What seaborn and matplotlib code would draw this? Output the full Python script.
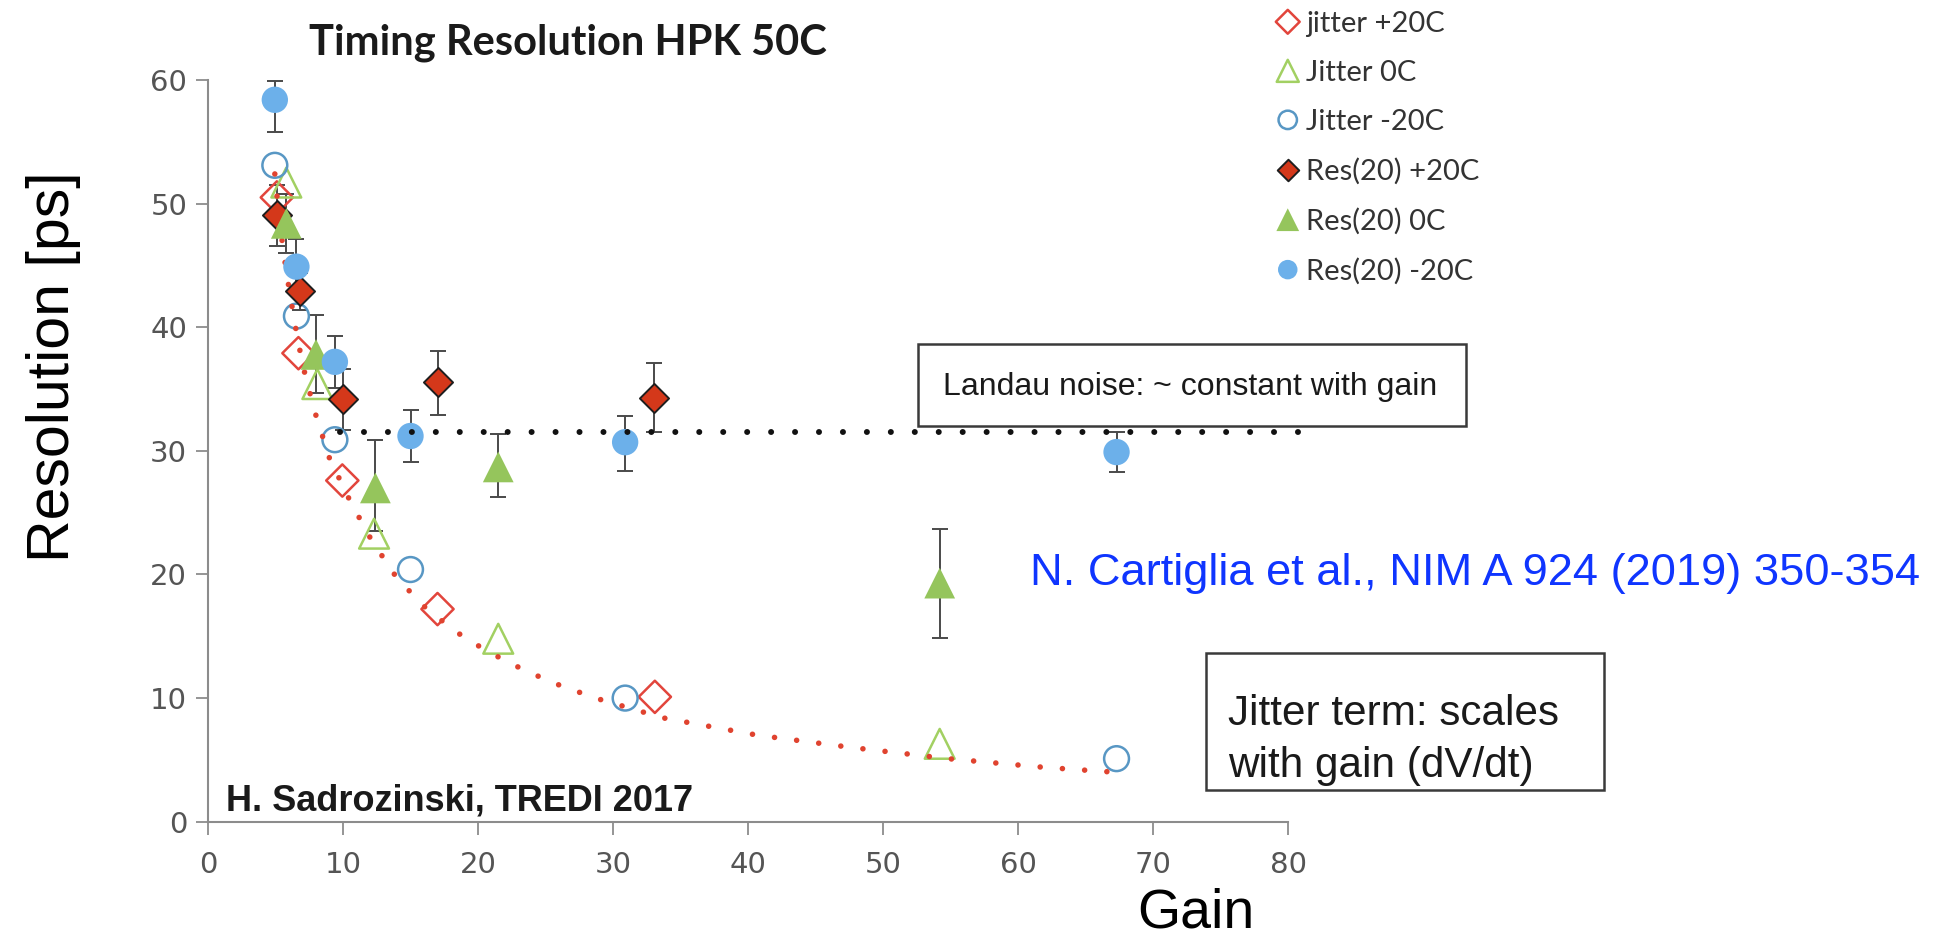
import matplotlib
matplotlib.use("Agg")
import matplotlib.pyplot as plt
import seaborn as sns
from matplotlib.patches import Rectangle

# =========================
# Setup
# =========================
sns.set_theme(style="white")
plt.rcParams["font.family"] = ["DejaVu Sans"]

W, H = 1935, 943


def fx(x):
    return x / W


def fy(y):
    return 1 - y / H


# =========================
# DATA
# =========================
# jitter (open markers)
J20_GAIN = [5.1, 6.7, 9.95, 17.0, 33.1]
J20_RES = [50.5, 37.9, 27.6, 17.2, 10.1]

J0_GAIN = [5.8, 8.1, 12.3, 21.5, 54.2]
J0_RES = [51.7, 35.4, 23.3, 14.8, 6.3]

JM20_GAIN = [4.95, 6.55, 9.4, 15.0, 30.9, 67.3]
JM20_RES = [53.1, 40.9, 30.9, 20.4, 10.0, 5.1]

# Res(20) (filled markers with error bars)
R20_GAIN = [5.1, 6.85, 10.0, 17.0, 33.0]
R20_RES = [49.1, 42.9, 34.2, 35.6, 34.3]
R20_LO = [46.6, 41.4, 31.7, 32.9, 31.5]
R20_HI = [51.5, 44.4, 36.6, 38.1, 37.1]

R0_GAIN = [5.8, 8.0, 12.4, 21.5, 54.2]
R0_RES = [48.4, 37.8, 27.0, 28.7, 19.3]
R0_LO = [46.0, 34.7, 23.5, 26.3, 14.9]
R0_HI = [50.8, 41.0, 30.9, 31.4, 23.7]

RM20_GAIN = [4.95, 6.55, 9.4, 15.0, 30.9, 67.3]
RM20_RES = [58.4, 44.9, 37.2, 31.2, 30.7, 29.9]
RM20_LO = [55.8, 42.7, 35.1, 29.1, 28.4, 28.3]
RM20_HI = [59.9, 47.1, 39.3, 33.3, 32.8, 31.5]

# dotted guide lines
TREND_GAIN = [4.95, 5.3, 5.8, 6.4, 7.0, 7.9, 9.0, 10.5, 12.1, 14.0, 16.3,
              19.1, 22.2, 25.4, 28.7, 33.7, 40.7, 47.7, 54.8, 61.9, 67.2]
TREND_RES = [52.4, 48.5, 44.5, 40.5, 37.0, 33.2, 29.4, 26.0, 22.8, 19.7, 17.1,
             14.8, 12.9, 11.3, 10.0, 8.4, 7.0, 6.0, 5.1, 4.4, 4.0]

LANDAU_GAIN = [9.8, 81.3]
LANDAU_RES = [31.5, 31.5]

X_TICKS = [0, 10, 20, 30, 40, 50, 60, 70, 80]
Y_TICKS = [0, 10, 20, 30, 40, 50, 60]

# =========================
# Colours
# =========================
RED_OPEN = "#e2453c"
GREEN_OPEN = "#a2d062"
BLUE_OPEN = "#5897c4"
RED_FILL = "#d4381a"
GREEN_FILL = "#95c55c"
BLUE_FILL = "#6cb0ea"
AXIS_GREY = "#8c8c8c"

# =========================
# Figure
# =========================
fig = plt.figure(figsize=(W / 100, H / 100), dpi=100)
ax = fig.add_axes([fx(208), fy(821.7), fx(1288) - fx(208), fy(80) - fy(821.7)])

# error bars (behind the markers)
for g, r, lo, hi in [(R20_GAIN, R20_RES, R20_LO, R20_HI),
                     (R0_GAIN, R0_RES, R0_LO, R0_HI),
                     (RM20_GAIN, RM20_RES, RM20_LO, RM20_HI)]:
    err = [[v - l for v, l in zip(r, lo)], [h - v for v, h in zip(r, hi)]]
    ax.errorbar(g, r, yerr=err, fmt="none", ecolor="#4a4a4a",
                elinewidth=1.4, capsize=5.5, capthick=1.4, zorder=2)

# open markers
sns.scatterplot(x=J20_GAIN, y=J20_RES, marker="D", s=270, facecolors="none",
                edgecolor=RED_OPEN, linewidth=1.8, label="jitter +20C", ax=ax, zorder=3)
sns.scatterplot(x=J0_GAIN, y=J0_RES, marker="^", s=460, facecolors="none",
                edgecolor=GREEN_OPEN, linewidth=1.8, label="Jitter 0C", ax=ax, zorder=3)
sns.scatterplot(x=JM20_GAIN, y=JM20_RES, marker="o", s=320, facecolors="none",
                edgecolor=BLUE_OPEN, linewidth=1.8, label="Jitter -20C", ax=ax, zorder=3)

# filled markers
sns.scatterplot(x=R20_GAIN, y=R20_RES, marker="D", s=220, color=RED_FILL,
                edgecolor="#1e1e1e", linewidth=1.4, label="Res(20) +20C", ax=ax, zorder=4)
sns.scatterplot(x=R0_GAIN, y=R0_RES, marker="^", s=490, color=GREEN_FILL,
                edgecolor="none", linewidth=0, label="Res(20) 0C", ax=ax, zorder=4)
sns.scatterplot(x=RM20_GAIN, y=RM20_RES, marker="o", s=360, color=BLUE_FILL,
                edgecolor="none", linewidth=0, label="Res(20) -20C", ax=ax, zorder=4)

# dotted lines
sns.lineplot(x=TREND_GAIN, y=TREND_RES, color="#e0432f", linewidth=4.0,
             linestyle=(0, (0.01, 4.0)), dash_capstyle="round", ax=ax, zorder=3.5)
sns.lineplot(x=LANDAU_GAIN, y=LANDAU_RES, color="#111111", linewidth=4.3,
             linestyle=(0, (0.01, 4.0)), dash_capstyle="round", ax=ax,
             zorder=5, clip_on=False)

# =========================
# Axes styling
# =========================
ax.set_xlim(0, 80)
ax.set_ylim(0, 60)
ax.set_xticks(X_TICKS)
ax.set_yticks(Y_TICKS)
for side in ["top", "right"]:
    ax.spines[side].set_visible(False)
for side in ["left", "bottom"]:
    ax.spines[side].set_color(AXIS_GREY)
    ax.spines[side].set_linewidth(1.5)
ax.tick_params(axis="both", direction="out", length=9, width=1.3,
               color=AXIS_GREY, labelsize=21, labelcolor="#555555")
ax.tick_params(axis="x", pad=12, bottom=True)
ax.tick_params(axis="y", pad=6, left=True)
ax.set_facecolor("white")
ax.grid(False)

ax.set_xlabel("Gain", fontsize=40, family=["Liberation Sans"], color="black", va="center")
ax.xaxis.set_label_coords(0.915, -0.124)
ax.set_ylabel("Resolution [ps]", fontsize=42.5, family=["Liberation Sans"], color="black", va="center")
ax.yaxis.set_label_coords(-0.1435, 0.613)

ax.text(1.33, 0.9, "H. Sadrozinski, TREDI 2017", fontsize=26, fontweight="bold",
        family=["Liberation Sans"], color="#1a1a1a", va="baseline", ha="left", zorder=6)

# legend
handles, labels = ax.get_legend_handles_labels()
ax.legend(handles, labels, loc="upper left", bbox_to_anchor=(fx(1279), fy(11)),
          bbox_transform=fig.transFigure, frameon=False, borderpad=0, borderaxespad=0,
          handlelength=0.6, handletextpad=0.32, labelspacing=0.79, markerscale=0.74,
          scatterpoints=1, scatteryoffsets=[0.5], labelcolor="#333333",
          prop={"family": ["Lato"], "size": 21})

# =========================
# Figure annotations
# =========================
fig.text(fx(568), fy(54), "Timing Resolution HPK 50C", ha="center", va="baseline",
         fontsize=30, fontweight="bold", family=["Lato"], color="#1a1a1a")

fig.add_artist(Rectangle((fx(918), fy(426)), fx(548), 82 / H, transform=fig.transFigure,
                         fill=False, edgecolor="#3a3a3a", linewidth=1.8))
fig.text(fx(943), fy(387), "Landau noise: ~ constant with gain", ha="left", va="center",
         fontsize=23, family=["Liberation Sans"], color="#1a1a1a")

fig.add_artist(Rectangle((fx(1206), fy(790)), fx(398), 137 / H, transform=fig.transFigure,
                         fill=False, edgecolor="#3a3a3a", linewidth=1.8))
fig.text(fx(1228), fy(740), "Jitter term: scales\nwith gain (dV/dt)", ha="left", va="center",
         fontsize=30.4, linespacing=1.36, family=["Liberation Sans"], color="#1a1a1a")

fig.text(fx(1030), fy(573), "N. Cartiglia et al., NIM A 924 (2019) 350-354", ha="left",
         va="center", fontsize=32.6, family=["Liberation Sans"], color="#0f35ff")

fig.savefig("out.png", dpi=100, facecolor="white")
